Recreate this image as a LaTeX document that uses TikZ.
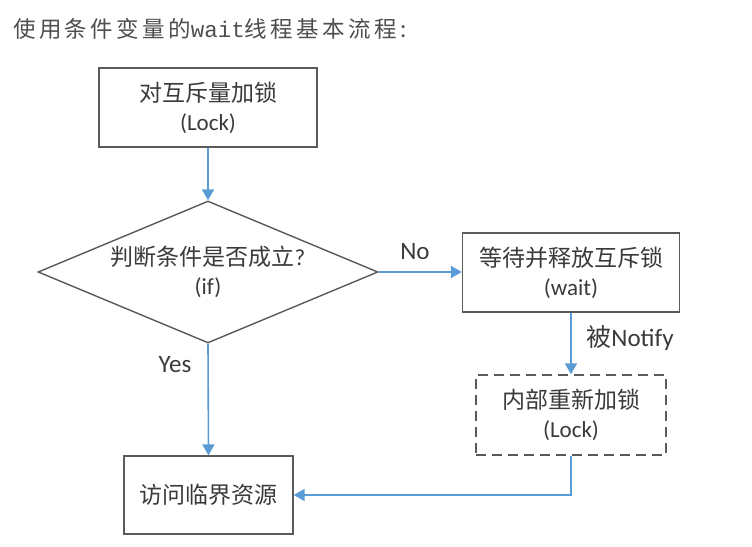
\documentclass[tikz,border=0pt]{standalone}
\usepackage{fontspec}
\setmainfont{Carlito}
\newfontfamily\zh{Noto Sans CJK SC}
\newfontfamily\zhwide[LetterSpace=15]{Noto Sans CJK SC}
\newfontfamily\monofont{Liberation Mono}
\usetikzlibrary{shapes.geometric,arrows.meta}
\definecolor{txt}{HTML}{3A3A3A}
\definecolor{edge}{HTML}{5A5A5A}
\definecolor{flow}{HTML}{5B9BD5}

\begin{document}
\begin{tikzpicture}[x=1pt,y=-1pt,
  box/.style={draw=edge, line width=1.4pt, rectangle, inner sep=0pt,
    align=center, text=txt, font=\fontsize{23}{29}\selectfont},
  decision/.style={draw=edge, line width=1.4pt, diamond, shape aspect=2.39,
    inner sep=0pt, minimum width=340pt, minimum height=142pt,
    align=center, text=txt, font=\fontsize{23}{29}\selectfont},
  flowarrow/.style={draw=flow, line width=1.6pt, -{Triangle[length=11pt,width=12pt]}},
  lbl/.style={text=txt, font=\fontsize{25}{25}\selectfont, inner sep=0pt}
]
\useasboundingbox[fill=white] (0,0) rectangle (752,546);

% heading
\node[anchor=west, inner sep=0pt, text=txt!90, font=\fontsize{22.5}{22.5}\selectfont] (title) at (13,29)
  {\zhwide 使用条件变量的{\monofont wait}线程基本流程:};

% flow nodes
\node[box, minimum width=218pt, minimum height=79pt] (lock) at (208,107.5)
  {{\zh 对互斥量加锁}\\(Lock)};
\node[decision] (cond) at (208,272)
  {{\zh 判断条件是否成立}?\\(if)};
\node[box, minimum width=217pt, minimum height=79pt] (wait) at (571,272.5)
  {{\zh 等待并释放互斥锁}\\(wait)};
\node[box, dash pattern=on 10pt off 6pt, minimum width=190pt, minimum height=80pt] (relock) at (571,415)
  {{\zh 内部重新加锁}\\(Lock)};
\node[box, minimum width=169pt, minimum height=78pt] (access) at (208.5,495)
  {\zh 访问临界资源};

% connectors
\draw[flowarrow] (lock.south) -- (cond.north);
\draw[flowarrow] (cond.east) -- (cond.east -| wait.west);
\draw[flowarrow] (cond.south) -- (access.north);
\draw[flowarrow] (wait.south) -- (relock.north);
\draw[flowarrow] (relock.south) |- (access.east);

% branch labels
\node[lbl] (no) at (415,252) {No};
\node[lbl] (yes) at (175,365) {Yes};
\node[lbl] (notify) at (630,338) {{\zh 被}Notify};
\end{tikzpicture}
\end{document}
